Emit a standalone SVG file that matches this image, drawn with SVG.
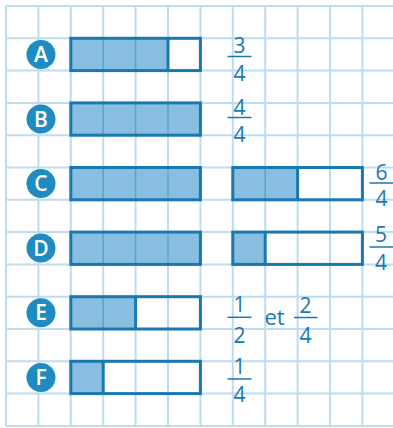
<svg xmlns="http://www.w3.org/2000/svg" width="393" height="428" viewBox="0 0 393 428">
<style>
.grid line{stroke:#bcdcef;stroke-width:2}
.fill{fill:#88bedf}
.div{stroke:#5fa1cc;stroke-width:1.5}
.box{fill:none;stroke:#1a78b0;stroke-width:3}
.sep{stroke:#1a78b0;stroke-width:3}
.badge{fill:#1e8bc3}
.lt{font-family:"Open Sans","Noto Sans",sans-serif;font-size:21px;font-weight:600;fill:#fff;text-anchor:middle}
.fr{font-family:"Open Sans","Noto Sans",sans-serif;font-size:21px;fill:#1a78b0;text-anchor:middle}
.fl{stroke:#1a78b0;stroke-width:1.5}
</style>
<rect width="393" height="428" fill="#fff"/>
<g class="grid">
<line x1="6" y1="6" x2="6" y2="426"/>
<line x1="38.4" y1="6" x2="38.4" y2="426"/>
<line x1="70.8" y1="6" x2="70.8" y2="426"/>
<line x1="103.2" y1="6" x2="103.2" y2="426"/>
<line x1="135.6" y1="6" x2="135.6" y2="426"/>
<line x1="168" y1="6" x2="168" y2="426"/>
<line x1="200.4" y1="6" x2="200.4" y2="426"/>
<line x1="232.8" y1="6" x2="232.8" y2="426"/>
<line x1="265.2" y1="6" x2="265.2" y2="426"/>
<line x1="297.6" y1="6" x2="297.6" y2="426"/>
<line x1="330" y1="6" x2="330" y2="426"/>
<line x1="362.4" y1="6" x2="362.4" y2="426"/>
<line x1="6" y1="6" x2="393" y2="6"/>
<line x1="6" y1="38.3" x2="393" y2="38.3"/>
<line x1="6" y1="70.6" x2="393" y2="70.6"/>
<line x1="6" y1="102.9" x2="393" y2="102.9"/>
<line x1="6" y1="135.2" x2="393" y2="135.2"/>
<line x1="6" y1="167.5" x2="393" y2="167.5"/>
<line x1="6" y1="199.8" x2="393" y2="199.8"/>
<line x1="6" y1="232.1" x2="393" y2="232.1"/>
<line x1="6" y1="264.4" x2="393" y2="264.4"/>
<line x1="6" y1="296.7" x2="393" y2="296.7"/>
<line x1="6" y1="329" x2="393" y2="329"/>
<line x1="6" y1="361.3" x2="393" y2="361.3"/>
<line x1="6" y1="393.6" x2="393" y2="393.6"/>
<line x1="6" y1="425.9" x2="393" y2="425.9"/>
</g>

<g id="rowA">
<circle class="badge" cx="41" cy="54.5" r="14.5"/>
<text class="lt" x="41" y="62">A</text>
<rect class="fill" x="70.8" y="38.3" width="97.2" height="32.3"/>
<line class="div" x1="103.2" y1="38.3" x2="103.2" y2="70.6"/>
<line class="div" x1="135.6" y1="38.3" x2="135.6" y2="70.6"/>
<rect class="box" x="70.8" y="38.3" width="129.6" height="32.3"/>
<line class="sep" x1="168" y1="38.3" x2="168" y2="70.6"/>
<text class="fr" x="239.5" y="52.5">3</text>
<line class="fl" x1="227.5" y1="56.5" x2="251.5" y2="56.5"/>
<text class="fr" x="239.5" y="80.5">4</text>
</g>

<g id="rowB">
<circle class="badge" cx="41" cy="119" r="14.5"/>
<text class="lt" x="41" y="126.5">B</text>
<rect class="fill" x="70.8" y="102.9" width="129.6" height="32.3"/>
<line class="div" x1="103.2" y1="102.9" x2="103.2" y2="135.2"/>
<line class="div" x1="135.6" y1="102.9" x2="135.6" y2="135.2"/>
<line class="div" x1="168" y1="102.9" x2="168" y2="135.2"/>
<rect class="box" x="70.8" y="102.9" width="129.6" height="32.3"/>
<text class="fr" x="239.5" y="114.5">4</text>
<line class="fl" x1="227.5" y1="117.5" x2="251.5" y2="117.5"/>
<text class="fr" x="239.5" y="141.5">4</text>
</g>

<g id="rowC">
<circle class="badge" cx="41" cy="183.6" r="14.5"/>
<text class="lt" x="41" y="191">C</text>
<rect class="fill" x="70.8" y="167.5" width="129.6" height="32.3"/>
<line class="div" x1="103.2" y1="167.5" x2="103.2" y2="199.8"/>
<line class="div" x1="135.6" y1="167.5" x2="135.6" y2="199.8"/>
<line class="div" x1="168" y1="167.5" x2="168" y2="199.8"/>
<rect class="box" x="70.8" y="167.5" width="129.6" height="32.3"/>
<rect class="fill" x="232.8" y="167.5" width="64.8" height="32.3"/>
<line class="div" x1="265.2" y1="167.5" x2="265.2" y2="199.8"/>
<rect class="box" x="232.8" y="167.5" width="129.6" height="32.3"/>
<line class="sep" x1="297.6" y1="167.5" x2="297.6" y2="199.8"/>
<text class="fr" x="381.5" y="179.5">6</text>
<line class="fl" x1="369.5" y1="183" x2="393" y2="183"/>
<text class="fr" x="381.5" y="206">4</text>
</g>

<g id="rowD">
<circle class="badge" cx="41" cy="248" r="14.5"/>
<text class="lt" x="41" y="255.5">D</text>
<rect class="fill" x="70.8" y="232.1" width="129.6" height="32.3"/>
<line class="div" x1="103.2" y1="232.1" x2="103.2" y2="264.4"/>
<line class="div" x1="135.6" y1="232.1" x2="135.6" y2="264.4"/>
<line class="div" x1="168" y1="232.1" x2="168" y2="264.4"/>
<rect class="box" x="70.8" y="232.1" width="129.6" height="32.3"/>
<rect class="fill" x="232.8" y="232.1" width="32.4" height="32.3"/>
<rect class="box" x="232.8" y="232.1" width="129.6" height="32.3"/>
<line class="sep" x1="265.2" y1="232.1" x2="265.2" y2="264.4"/>
<text class="fr" x="381" y="242">5</text>
<line class="fl" x1="369.5" y1="247" x2="393" y2="247"/>
<text class="fr" x="381" y="270">4</text>
</g>

<g id="rowE">
<circle class="badge" cx="41" cy="312.8" r="14.5"/>
<text class="lt" x="41" y="320.3">E</text>
<rect class="fill" x="70.8" y="296.7" width="64.8" height="32.3"/>
<line class="div" x1="103.2" y1="296.7" x2="103.2" y2="329"/>
<rect class="box" x="70.8" y="296.7" width="129.6" height="32.3"/>
<line class="sep" x1="135.6" y1="296.7" x2="135.6" y2="329"/>
<text class="fr" x="239.5" y="312.3">1</text>
<line class="fl" x1="227.5" y1="317.3" x2="251.5" y2="317.3"/>
<text class="fr" x="239.5" y="342.5">2</text>
<text class="fr" x="274.5" y="325" style="font-size:22px">et</text>
<text class="fr" x="305.5" y="313.3">2</text>
<line class="fl" x1="294" y1="317.5" x2="317.5" y2="317.5"/>
<text class="fr" x="305.5" y="342.7">4</text>
</g>

<g id="rowF">
<circle class="badge" cx="41" cy="377.4" r="14.5"/>
<text class="lt" x="41" y="384.9">F</text>
<rect class="fill" x="70.8" y="361.3" width="32.4" height="32.3"/>
<rect class="box" x="70.8" y="361.3" width="129.6" height="32.3"/>
<line class="sep" x1="103.2" y1="361.3" x2="103.2" y2="393.6"/>
<text class="fr" x="239.5" y="374.3">1</text>
<line class="fl" x1="227.5" y1="379" x2="251.5" y2="379"/>
<text class="fr" x="239.5" y="401.7">4</text>
</g>
</svg>
